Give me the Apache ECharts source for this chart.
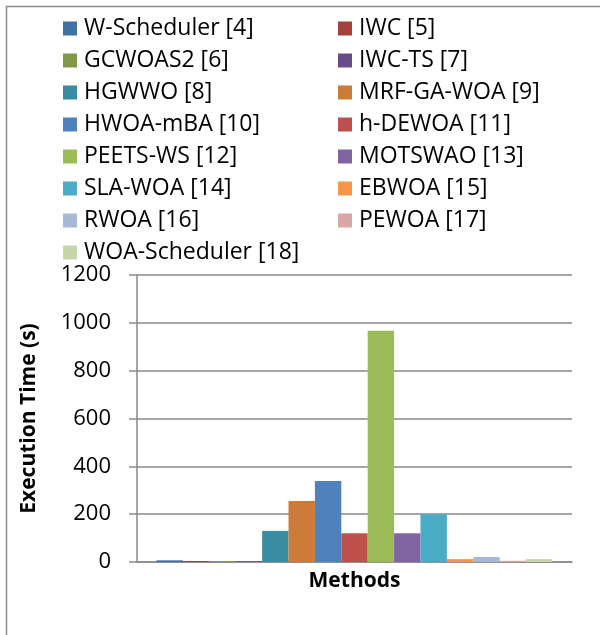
<!DOCTYPE html>
<html>
<head>
<meta charset="utf-8">
<script src="https://cdn.jsdelivr.net/npm/echarts@6/dist/echarts.min.js"></script>
<style>
  html, body { margin: 0; padding: 0; background: #fff; }
  #chart { width: 600px; height: 635px; }
</style>
</head>
<body>
<div id="chart"></div>
<script>
// method names as in the legend, in bar order
const methods = [
  'W-Scheduler [4]', 'IWC [5]', 'GCWOAS2 [6]', 'IWC-TS [7]', 'HGWWO [8]',
  'MRF-GA-WOA [9]', 'HWOA-mBA [10]', 'h-DEWOA [11]', 'PEETS-WS [12]', 'MOTSWAO [13]',
  'SLA-WOA [14]', 'EBWOA [15]', 'RWOA [16]', 'PEWOA [17]', 'WOA-Scheduler [18]'
];
// execution time (s)
const execTime = [7, 4, 4, 3, 130, 255, 339, 120, 967, 120, 200, 12, 21, 5, 12];
const colors = [
  '#416fa6', '#a5403d', '#7e9a48', '#664d8a', '#3a8ca3',
  '#cc7b38', '#4f81bd', '#c0504d', '#9bbb59', '#8064a2',
  '#4bacc6', '#f79646', '#a8b9d8', '#d9a6a5', '#c5d6ab'
];
const yTicks = { min: 0, max: 1200, interval: 200 };

const font = 'Open Sans';
const gridColor = '#898989';

const chart = echarts.init(document.getElementById('chart'));

// two legend columns, items alternate left / right
const leftCol = methods.filter((m, i) => i % 2 === 0);
const rightCol = methods.filter((m, i) => i % 2 === 1);

const legendBase = {
  orient: 'vertical',
  top: 12,
  icon: 'rect',
  itemWidth: 14,
  itemHeight: 14,
  itemGap: 9,
  selectedMode: false,
  textStyle: { fontFamily: font, fontSize: 23, lineHeight: 23, color: '#000', padding: [0, 0, 0, 2] }
};

const series = methods.map((name, i) => ({
  name: name,
  type: 'bar',
  data: [execTime[i]],
  barGap: 0,
  barCategoryGap: '9%',
  itemStyle: { color: colors[i] },
  animation: false
}));

chart.setOption({
  animation: false,
  graphic: [{
    type: 'rect',
    shape: { x: 6.5, y: 6.5, width: 800, height: 800 },
    style: { fill: 'none', stroke: '#8c8c8c', lineWidth: 1.5 },
    silent: true
  }],
  legend: [
    Object.assign({}, legendBase, { left: 58, data: leftCol }),
    Object.assign({}, legendBase, { left: 333, data: rightCol })
  ],
  grid: { left: 137, right: 28, top: 275, bottom: 73 },
  xAxis: {
    type: 'category',
    data: [''],
    name: 'Methods',
    nameLocation: 'middle',
    nameGap: 9,
    nameTextStyle: { fontFamily: font, fontSize: 21, fontWeight: 'bold', color: '#000' },
    axisLine: { lineStyle: { color: gridColor, width: 1.5 } },
    axisTick: { show: false },
    axisLabel: { show: false }
  },
  yAxis: {
    type: 'value',
    min: yTicks.min,
    max: yTicks.max,
    interval: yTicks.interval,
    name: 'Execution Time (s)',
    nameLocation: 'middle',
    nameGap: 97,
    nameTextStyle: { fontFamily: font, fontSize: 21, fontWeight: 'bold', color: '#000' },
    axisLine: { show: true, lineStyle: { color: gridColor, width: 1.5 } },
    axisTick: { show: true, length: 8, lineStyle: { color: gridColor, width: 1.5 } },
    axisLabel: { fontFamily: font, fontSize: 22, color: '#000', margin: 26, formatter: v => String(v) },
    splitLine: { lineStyle: { color: gridColor, width: 1.5 } }
  },
  series: series
});
</script>
</body>
</html>
